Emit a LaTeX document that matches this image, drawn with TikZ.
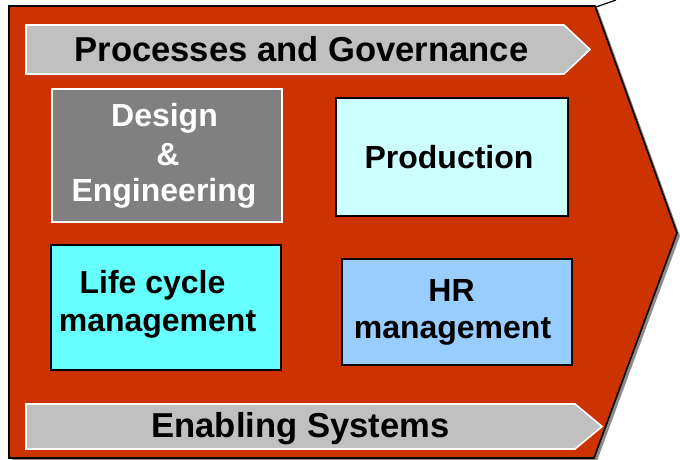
\documentclass[tikz,border=0pt]{standalone}
\usepackage{fontspec}
\setmainfont{Liberation Sans}
\definecolor{arrowred}{HTML}{CC3300}
\definecolor{bannergray}{HTML}{C0C0C0}
\definecolor{shadowgray}{HTML}{8C8C8C}
\definecolor{designgray}{HTML}{808080}
\definecolor{prodcyan}{HTML}{CCFFFF}
\definecolor{lifecyan}{HTML}{66FFFF}
\definecolor{hrblue}{HTML}{99CCFF}
\begin{document}
\begin{tikzpicture}[x=1pt,y=-1pt,
  banner/.style={fill=bannergray,draw=white,line width=1.6pt,line join=miter},
  boxstyle/.style={draw=black,line width=1.6pt,anchor=north west,inner sep=0pt},
  boxlbl/.style={anchor=base,inner sep=0pt,font=\fontsize{32}{36}\selectfont\bfseries},
  bannerlbl/.style={anchor=base,inner sep=0pt,font=\fontsize{34.6}{40}\selectfont\bfseries}]
\useasboundingbox (0,0) rectangle (680,460);
\fill[white] (0,0) rectangle (680,460);
% shadow and main arrow
\fill[shadowgray] (12,9) -- (598,9) -- (680,236) -- (597,461) -- (12,461) -- cycle;
\draw[fill=arrowred,draw=black,line width=1.6pt,line join=miter]
  (9,6) -- (595,6) -- (677,233) -- (594,458) -- (9,458) -- cycle;
\coordinate (corner) at (596,7);
\coordinate (lineend) at (616,0);
\draw[black,line width=1.2pt] (corner) -- (lineend);
% banners
\draw[banner] (26,25) -- (564,25) -- (590,49.5) -- (564,74) -- (26,74) -- cycle;
\draw[banner] (26,404) -- (575,404) -- (602,426.5) -- (575,449) -- (26,449) -- cycle;
\node[bannerlbl] (pg) at (301.5,62) {Processes and Governance};
\node[bannerlbl] (es) at (300.5,437) {Enabling Systems};
% boxes
\node[boxstyle,draw=white,fill=designgray,minimum width=230pt,minimum height=133pt] (design) at (51,88) {};
\node[boxstyle,fill=prodcyan,minimum width=232pt,minimum height=118pt] (prod) at (335,97) {};
\node[boxstyle,fill=lifecyan,minimum width=230pt,minimum height=125pt] (life) at (50,244) {};
\node[boxstyle,fill=hrblue,minimum width=230pt,minimum height=106pt] (hr) at (341,258) {};
% labels
\node[boxlbl,text=white] (d1) at (164.5,126) {Design};
\node[boxlbl,text=white] (d2) at (168,165.5) {\&};
\node[boxlbl,text=white] (d3) at (164,201.7) {Engineering};
\node[boxlbl] (p1) at (449,168.3) {Production};
\node[boxlbl] (l1) at (152.5,293.3) {Life cycle};
\node[boxlbl] (l2) at (157.5,331.7) {management};
\node[boxlbl] (h1) at (451.5,301.7) {HR};
\node[boxlbl] (h2) at (452.5,338.3) {management};
\end{tikzpicture}
\end{document}
